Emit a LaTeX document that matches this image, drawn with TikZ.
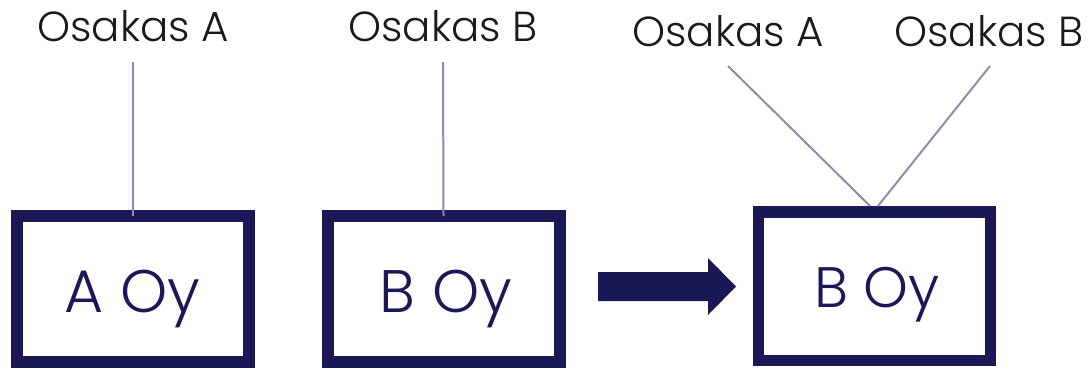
\documentclass[tikz,border=0pt]{standalone}
\usepackage{fontspec}
\setmainfont{Poppins}[UprightFont={* Light}]
\definecolor{navy}{HTML}{1A1856}
\definecolor{link}{HTML}{8E8AAB}
\definecolor{ink}{HTML}{1A1A1A}
\begin{document}
\begin{tikzpicture}[x=1pt,y=-1pt,
  box/.style={draw=navy,line width=12pt,minimum width=232pt,minimum height=146pt,inner sep=0pt,outer sep=0pt},
  boxtext/.style={text=navy,font=\fontsize{60}{60}\selectfont,anchor=base,inner sep=0pt},
  lbl/.style={text=ink,font=\fontsize{42}{42}\selectfont,anchor=base,inner sep=0pt},
  conn/.style={draw=link,line width=2pt}]
\useasboundingbox (0,0) rectangle (1092,368);
% boxes
\node[box] (b1) at (133,289) {};
\node[box] (b2) at (443.5,289) {};
\node[box,minimum height=148.5pt,line width=11.5pt] (b3) at (874.5,286) {};
\node[boxtext] (t1) at (132.5,312) {A Oy};
\node[boxtext] (t2) at (446,312) {B Oy};
\node[boxtext,font=\fontsize{57}{57}\selectfont] (t3) at (877,307) {B Oy};
% labels
\node[lbl] (la) at (133,41) {Osakas A};
\node[lbl] (lb) at (443,41) {Osakas B};
\node[lbl] (lc) at (728,46) {Osakas A};
\node[lbl] (ld) at (989,46) {Osakas B};
\coordinate (ca) at (133,62);
\coordinate (cb) at (443,62);
\coordinate (cc) at (728,66);
\coordinate (cd) at (990,66);
\coordinate (e3a) at (870,206);
\coordinate (e3b) at (878,206);
\draw[conn] (ca) -- (b1.north);
\draw[conn] (cb) -- (b2.north);
\draw[conn] (cc) -- (e3a);
\draw[conn] (cd) -- (e3b);
% big arrow
\fill[navy] (598,272) -- (708,272) -- (708,258) -- (736,286.5) -- (708,315) -- (708,301) -- (598,301) -- cycle;
\end{tikzpicture}
\end{document}
